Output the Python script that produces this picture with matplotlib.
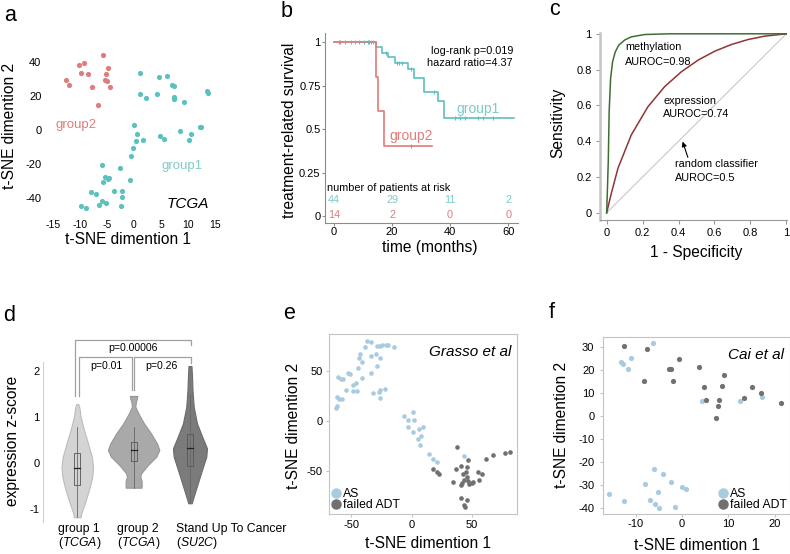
import matplotlib
matplotlib.use("Agg")
import matplotlib.pyplot as plt
from matplotlib.lines import Line2D
import numpy as np

plt.rcParams['font.family'] = ['Liberation Sans', 'DejaVu Sans']
plt.rcParams['axes.unicode_minus'] = False
plt.rcParams['mathtext.fontset'] = 'custom'
plt.rcParams['mathtext.it'] = 'Liberation Sans:italic'
plt.rcParams['mathtext.rm'] = 'Liberation Sans'

# ---------------- data ----------------
# a: t-SNE of TCGA samples
g1_x = [1.2, 4.6, 6.2, 7.0, 7.5, 13.5, 13.7, 1.2, 2.3, 4.3, 7.5, 7.5, 9.2, 0.0, 0.5, 1.6, 0.3, -0.2,
        -0.6, 4.9, 5.6, 8.5, 10.6, 10.2, 12.2, 12.5, -5.9, -2.5, -5.3, -4.8, -5.7, -0.8, -8.0, -7.1,
        -3.7, -2.2, -2.3, -5.9, -5.1, -6.5, -9.8, -8.9, -2.4, -4.6]
g1_y = [33.5, 31.4, 31.8, 26.6, 25.7, 23.0, 22.0, 21.2, 18.6, 21.0, 19.6, 18.4, 16.5, 2.7, -2.4, -5.7,
        -6.7, -10.8, -15.5, -3.3, -5.1, -0.4, -2.5, -5.7, 1.8, 1.8, -20.8, -22.2, -27.8, -29.0, -30.4,
        -29.2, -36.3, -37.6, -35.9, -36.1, -39.2, -41.8, -43.1, -43.9, -44.5, -46.0, -44.7, -28.2]
g2_x = [-5.7, -10.1, -9.3, -4.9, -9.8, -8.6, -5.1, -12.5, -5.4, -5.0, -12.1, -7.8, -4.4, -6.7]
g2_y = [44.0, 38.0, 39.6, 36.3, 33.7, 33.0, 32.7, 29.6, 29.4, 29.0, 26.3, 25.1, 25.1, 14.9]

# b: Kaplan-Meier
km1_t = [0, 14.4, 16.7, 18.7, 21.0, 25.6, 27.7, 31.1, 35.7, 38.0, 62.0]
km1_s = [1, 0.973, 0.939, 0.912, 0.877, 0.843, 0.791, 0.711, 0.663, 0.561, 0.561]
km2_t = [0, 14.4, 15.3, 17.2, 33.7]
km2_s = [1, 0.80, 0.605, 0.402, 0.402]
cens1 = [1.6, 3.9, 5.7, 7.1, 8.6, 10.3, 11.7, 12.6, 13.6, 17.8, 21.6, 22.4, 23.3, 26.5, 34.6,
         41.7, 43.4, 45.2, 49.5, 51.2, 54.7]
cens2 = [1.9, 11.9, 26.5]
risk_times = [0, 20, 40, 60]
risk_g1 = [44, 29, 11, 2]
risk_g2 = [14, 2, 0, 0]

# c: ROC curves
meth_fpr = [0, 0.004, 0.009, 0.014, 0.022, 0.033, 0.048, 0.067, 0.1, 0.137, 0.212, 0.35, 1.0]
meth_tpr = [0, 0.12, 0.286, 0.565, 0.75, 0.844, 0.899, 0.936, 0.965, 0.983, 0.996, 1.0, 1.0]
expr_fpr = [0, 0.025, 0.063, 0.137, 0.230, 0.323, 0.416, 0.509, 0.602, 0.694, 0.787, 0.88, 1.0]
expr_tpr = [0, 0.105, 0.249, 0.435, 0.593, 0.705, 0.788, 0.853, 0.903, 0.940, 0.968, 0.987, 1.0]

# d: violin outlines (z-score, half width in px) and box stats
v1_y = [1.283, 1.2, 1.007, 0.717, 0.427, 0.135, -0.083, -0.301, -0.59, -0.88, -1.098, -1.185]
v1_w = [1.0, 2.2, 3.3, 6.7, 10.7, 14.5, 15.8, 15.0, 11.7, 7.5, 4.0, 3.3]
v2_y = [1.458, 1.40, 1.334, 1.225, 1.080, 0.862, 0.645, 0.427, 0.281, 0.135, -0.046, -0.227, -0.30,
        -0.40, -0.54]
v2_w = [3.7, 3.3, 2.3, 1.7, 4.7, 10.3, 17.3, 23.3, 25.7, 22.7, 14.3, 7.5, 6.7, 8.0, 8.0]
v3_y = [2.11, 1.80, 1.588, 1.225, 0.862, 0.571, 0.318, 0.135, -0.155, -0.445, -0.736, -0.88]
v3_w = [1.5, 2.2, 2.5, 3.7, 7.0, 12.2, 17.0, 16.3, 12.0, 7.8, 3.7, 1.7]
box_lo = [-0.481, 0.041, -0.068]
box_hi = [0.209, 0.462, 0.623]
medians = [-0.118, 0.281, 0.318]
whisk_lo = [-1.18, -0.54, -0.88]
whisk_hi = [0.776, 0.776, 1.5]
group_names = ['group 1', 'group 2', 'Stand Up To Cancer']
group_sets = ['TCGA', 'TCGA', 'SU2C']

# e: Grasso et al
e_as_x = [-36.8, -33.7, -39.0, -28.5, -26.3, -24.4, -21.6, -19.3, -14.9, -42.6, -29.9, -33.7, -44.0,
          -26.3, -41.2, -44.5, -28.5, -33.7, -52.8, -50.8, -60.8, -59.0, -57.0, -41.2, -46.2, -48.9,
          -54.5, -48.9, -45.0, -31.8, -26.8, -26.0, -21.8, -26.3, -61.7, -60.2, -57.8, -61.9, -63.0,
          -6.6, 1.1, -3.3, 2.2, -2.8, 0.8, 5.8, 9.1, 8.0, 5.3, 6.9, 14.3, 17.9, 21.2, 43.6]
e_as_y = [80.6, 79.6, 74.8, 75.9, 75.9, 76.3, 76.6, 76.3, 75.0, 67.8, 67.8, 65.8, 63.4, 63.0, 59.1,
          53.0, 55.3, 48.4, 48.0, 47.0, 44.0, 42.6, 42.0, 43.0, 38.4, 36.4, 31.5, 30.0, 30.4, 28.2,
          29.2, 30.9, 32.2, 22.9, 23.8, 21.8, 22.5, 15.5, 12.8, 5.0, 8.7, 0.7, 0.7, -5.7, -10.7, -8.4,
          -6.4, -15.1, -18.4, -24.0, -32.9, -38.6, -41.3, -35.6]
e_adt_x = [37.3, 17.7, 21.3, 23.0, 36.5, 40.9, 46.7, 46.1, 42.5, 44.7, 46.3, 43.4, 47.0, 49.8, 41.7,
           41.2, 55.3, 58.3, 55.9, 34.0, 61.9, 67.7, 77.4, 81.8, 41.2, 45.6, 43.1, 44.5, 47.5, 50.6]
e_adt_y = [-26.2, -48.3, -51.3, -53.3, -48.7, -45.0, -39.7, -46.7, -53.4, -51.3, -56.0, -59.4, -60.0,
           -62.0, -62.0, -64.5, -51.3, -53.4, -59.1, -61.0, -38.3, -34.6, -31.9, -30.9, -77.2, -79.5,
           -84.5, -86.2, -63.4, -61.7]

# f: Cai et al
f_as_x = [-6.2, -13.2, -12.7, -11.0, -11.7, 4.3, 12.5, 17.3, -6.1, -4.2, -8.0, -2.4, -0.1, 0.9,
          -15.7, -5.1, -12.5, -6.8, -5.8, -4.9, -1.4]
f_as_y = [31.6, 23.6, 22.5, 25.4, 20.6, 6.7, 6.7, 8.3, -23.0, -25.1, -29.6, -28.5, -31.0, -31.9,
          -33.8, -33.2, -36.8, -36.5, -38.1, -40.0, -39.4]
f_adt_x = [-12.4, -7.6, -0.7, -2.9, -2.4, 3.7, -8.1, -1.9, 9.0, 4.7, 8.6, 15.0, 17.0, 5.1, 8.0,
           13.4, 7.8, 21.4, 7.4]
f_adt_y = [30.6, 29.1, 24.8, 20.4, 20.6, 21.3, 15.2, 15.2, 17.7, 12.6, 12.9, 12.7, 10.0, 7.0, 7.0,
           7.7, 4.5, 5.5, -0.7]

# ---------------- styles ----------------
TEAL = '#5cc0bc'
TEAL_TXT = '#7ecbc7'
RED = '#e07c7c'
AS_C = '#a9cbe0'
ADT_C = '#707070'
TICK = 8
SMALL = 7.8
LAB = 11.2

W, H = 790.0, 554.0
fig = plt.figure(figsize=(7.9, 5.54), dpi=100)


def box(l, t, r, b):
    return [l / W, 1 - b / H, (r - l) / W, (b - t) / H]


def ftext(px, py, s, **kw):
    return fig.text(px / W, 1 - py / H, s, **kw)


def panel(px, py, s):
    ftext(px, py, s, fontsize=15.5, ha='left', va='baseline')


# ---------------- a ----------------
ax = fig.add_axes(box(44.9, 50.1, 217.7, 215))
ax.scatter(g1_x, g1_y, s=14, color=TEAL, linewidths=0)
ax.scatter(g2_x, g2_y, s=14, color=RED, linewidths=0)
ax.set_xlim(-16.5, 15.5)
ax.set_ylim(-50, 47)
ax.set_xticks([-15, -10, -5, 0, 5, 10, 15])
ax.set_yticks([-40, -20, 0, 20, 40])
for s in ax.spines.values():
    s.set_visible(False)
ax.tick_params(length=0, labelsize=TICK)
ax.tick_params(axis='x', pad=3.5, labelsize=7.5)
ax.tick_params(axis='y', pad=2.5)
ax.text(-10.7, 3, 'group2', color=RED, fontsize=9.5, ha='center', va='center')
ax.text(8.9, -21, 'group1', color=TEAL_TXT, fontsize=9.5, ha='center', va='center')
ax.text(13.9, -43.5, 'TCGA', style='italic', fontsize=11, ha='right', va='center')
ftext(128, 240, 't-SNE dimention 1', fontsize=LAB, ha='center', va='center')
ftext(10, 126, 't-SNE dimention 2', fontsize=LAB, ha='center', va='center', rotation=90)
panel(4, 21, 'a')

# ---------------- b ----------------
ax = fig.add_axes(box(325, 33.3, 518, 223))
ax.step(km1_t, km1_s, where='post', color=TEAL, lw=1.2)
ax.step(km2_t, km2_s, where='post', color=RED, lw=1.2)
idx1 = np.searchsorted(km1_t, cens1, side='right') - 1
idx2 = np.searchsorted(km2_t, cens2, side='right') - 1
ax.plot(cens1, np.array(km1_s)[idx1], ls='', marker='|', ms=3.5, mew=0.8, color=TEAL)
ax.plot(cens2, np.array(km2_s)[idx2], ls='', marker='|', ms=3.5, mew=0.8, color=RED)
ax.set_xlim(-3.1, 63.4)
ax.set_ylim(-0.04, 1.05)
ax.set_xticks([0, 20, 40, 60])
ax.set_yticks([0, 0.25, 0.5, 0.75, 1])
ax.set_yticklabels(['0', '0.25', '0.5', '0.75', '1'])
for k in ['top', 'right']:
    ax.spines[k].set_visible(False)
for k in ['left', 'bottom']:
    ax.spines[k].set_color('#8c8c8c')
ax.tick_params(length=2, color='#8c8c8c', labelsize=TICK, pad=1.2)
ax.text(-2.4, 0.161, 'number of patients at risk', fontsize=SMALL, ha='left', va='center')
for t, n1, n2 in zip(risk_times, risk_g1, risk_g2):
    ax.text(t, 0.092, str(n1), color=TEAL_TXT, fontsize=SMALL, ha='center', va='center')
    ax.text(t, 0.006, str(n2), color=RED, fontsize=SMALL, ha='center', va='center')
ax.text(61.7, 0.948, 'log-rank p=0.019', fontsize=SMALL, ha='right', va='center')
ax.text(61.4, 0.879, 'hazard ratio=4.37', fontsize=SMALL, ha='right', va='center')
ax.text(49.7, 0.615, 'group1', color=TEAL_TXT, fontsize=10, ha='center', va='center')
ax.text(26.6, 0.46, 'group2', color=RED, fontsize=10, ha='center', va='center')
ftext(430, 248, 'time (months)', fontsize=LAB, ha='center', va='center')
ftext(290, 130, 'treatment-related survival', fontsize=LAB, ha='center', va='center', rotation=90)
panel(281, 17, 'b')

# ---------------- c ----------------
ax = fig.add_axes(box(600, 33, 787, 220))
ax.plot([0, 1], [0, 1], color='#c8c8c8', lw=0.8)
ax.plot(expr_fpr, expr_tpr, color='#8e3535', lw=1.1)
ax.plot(meth_fpr, meth_tpr, color='#3f6e33', lw=1.1)
ax.set_xlim(-0.037, 1.004)
ax.set_ylim(-0.04, 1.0045)
ax.set_xticks([0, 0.2, 0.4, 0.6, 0.8, 1])
ax.set_xticklabels(['0', '0.2', '0.4', '0.6', '0.8', '1'])
ax.set_yticks([0, 0.2, 0.4, 0.6, 0.8, 1])
ax.set_yticklabels(['0', '0.2', '0.4', '0.6', '0.8', '1'])
for k in ['top', 'right']:
    ax.spines[k].set_visible(False)
ax.spines['left'].set_color('#c4c4c4')
ax.spines['left'].set_linewidth(1.8)
ax.spines['bottom'].set_color('#9a9a9a')
ax.tick_params(length=3, color='#9a9a9a', labelsize=TICK)
ax.tick_params(axis='x', pad=2.5)
ax.tick_params(axis='y', pad=3)
ax.text(0.102, 0.924, 'methylation', fontsize=SMALL, va='center')
ax.text(0.102, 0.84, 'AUROC=0.98', fontsize=SMALL, va='center')
ax.text(0.314, 0.623, 'expression', fontsize=SMALL, va='center')
ax.text(0.314, 0.55, 'AUROC=0.74', fontsize=SMALL, va='center')
ax.text(0.381, 0.271, 'random classifier', fontsize=SMALL, va='center')
ax.text(0.381, 0.193, 'AUROC=0.5', fontsize=SMALL, va='center')
ax.annotate('', xy=(0.423, 0.398), xytext=(0.452, 0.31),
            arrowprops=dict(arrowstyle='-|>', color='black', lw=0.8, mutation_scale=7,
                            shrinkA=0, shrinkB=0))
ftext(696, 252, '1 - Specificity', fontsize=LAB, ha='center', va='center')
ftext(558, 123, 'Sensitivity', fontsize=LAB, ha='center', va='center', rotation=90)
panel(549, 15, 'c')

# ---------------- d ----------------
ax = fig.add_axes(box(43.3, 329.8, 215, 522))
px_unit = 56.35  # pixels per group step, used to scale the outline widths
fills = ['#d4d4d4', '#a9a9a9', '#7b7b7b']
edges = ['#bcbcbc', '#979797', '#6b6b6b']
for i, (vy, vw) in enumerate([(v1_y, v1_w), (v2_y, v2_w), (v3_y, v3_w)]):
    pos = i + 1
    hw = np.array(vw) / px_unit
    ax.fill_betweenx(vy, pos - hw, pos + hw, facecolor=fills[i], edgecolor=edges[i], lw=0.8)
    ax.plot([pos, pos], [whisk_lo[i], whisk_hi[i]], color='#666666', lw=0.6)
    bw = 3.0 / px_unit
    ax.add_patch(plt.Rectangle((pos - bw, box_lo[i]), 2 * bw, box_hi[i] - box_lo[i],
                               facecolor=fills[i], edgecolor='#555555', lw=0.6))
    ax.plot([pos - bw, pos + bw], [medians[i], medians[i]], color='#222222', lw=0.9)
    ax.text(pos - 0.34 + 0.05 * i, -1.45, group_names[i], fontsize=8.8, ha='left', va='center',
            clip_on=False)
    ax.text(pos - 0.34 + 0.05 * i, -1.755, '($\\mathit{' + group_sets[i] + '}$)', fontsize=8.8,
            ha='left', va='center', clip_on=False)

# significance brackets
br = dict(color='#a0a0a0', lw=0.9, clip_on=False)
ax.plot([0.959, 0.959, 3.012, 3.012], [1.458, 2.678, 2.678, 2.569], **br)
ax.plot([1.03, 1.03, 1.976, 1.976], [1.458, 2.301, 2.301, 1.588], **br)
ax.plot([2.012, 2.012, 3.012, 3.012], [1.588, 2.301, 2.301, 2.17], **br)
ax.text(1.988, 2.497, 'p=0.00006', fontsize=7.6, ha='center', va='center')
ax.text(1.522, 2.111, 'p=0.01', fontsize=7.6, ha='center', va='center')
ax.text(2.498, 2.111, 'p=0.26', fontsize=7.6, ha='center', va='center')

ax.set_xlim(0.397, 3.444)
ax.set_ylim(-1.288, 2.9)
ax.set_xticks([])
ax.set_yticks([-1, 0, 1, 2])
for k in ['top', 'right', 'bottom']:
    ax.spines[k].set_visible(False)
ax.spines['left'].set_bounds(-1.288, 2.198)
ax.spines['left'].set_color('#d0d0d0')
ax.tick_params(axis='y', length=0, labelsize=TICK, pad=2.5)
ftext(13, 441, 'expression z-score', fontsize=LAB, ha='center', va='center', rotation=90)
panel(3, 321, 'd')


# ---------------- e / f ----------------
def tsne_panel(rect, as_x, as_y, adt_x, adt_y, xlim, ylim, xt, yt, title, loc, size):
    ax = fig.add_axes(rect)
    ax.scatter(as_x, as_y, s=size, color=AS_C, linewidths=0)
    ax.scatter(adt_x, adt_y, s=size, color=ADT_C, linewidths=0)
    ax.set_xlim(*xlim)
    ax.set_ylim(*ylim)
    ax.set_xticks(xt)
    ax.set_yticks(yt)
    for s in ax.spines.values():
        s.set_color('#c4c4c4')
    ax.tick_params(length=2, color='#c4c4c4', labelsize=TICK)
    ax.text(0.97, 0.9, title, transform=ax.transAxes, style='italic', fontsize=11,
            ha='right', va='center')
    handles = [Line2D([], [], ls='', marker='o', ms=6.5, color=AS_C, label='AS'),
               Line2D([], [], ls='', marker='o', ms=6.5, color=ADT_C, label='failed ADT')]
    ax.legend(handles=handles, loc=loc, frameon=False, fontsize=8.8, handlelength=0.6,
              handletextpad=0.25, labelspacing=-0.05, borderaxespad=0.15, borderpad=0.1)
    return ax


ax = tsne_panel(box(329.3, 334.3, 517.3, 514.3), e_as_x, e_as_y, e_adt_x, e_adt_y,
                (-68.3, 87.6), (-94, 87.3), [-50, 0, 50], [-50, 0, 50], 'Grasso et al',
                'lower left', 11)
ax.tick_params(axis='y', pad=3)
ax.tick_params(axis='x', pad=2)
ftext(428, 543, 't-SNE dimention 1', fontsize=LAB, ha='center', va='center')
ftext(293, 426, 't-SNE dimention 2', fontsize=LAB, ha='center', va='center', rotation=90)
panel(283, 319, 'e')

ax = tsne_panel(box(602.7, 337.3, 790, 514.3), f_as_x, f_as_y, f_adt_x, f_adt_y,
                (-17.1, 23.3), (-42.7, 34.2), [-10, 0, 10, 20],
                [-40, -30, -20, -10, 0, 10, 20, 30], 'Cai et al', 'lower right', 14)
ax.tick_params(axis='y', pad=4)
ax.tick_params(axis='x', pad=1.5)
ftext(697, 545, 't-SNE dimention 1', fontsize=LAB, ha='center', va='center')
ftext(562, 425, 't-SNE dimention 2', fontsize=LAB, ha='center', va='center', rotation=90)
panel(549, 318, 'f')

fig.savefig('out.png', dpi=100)
